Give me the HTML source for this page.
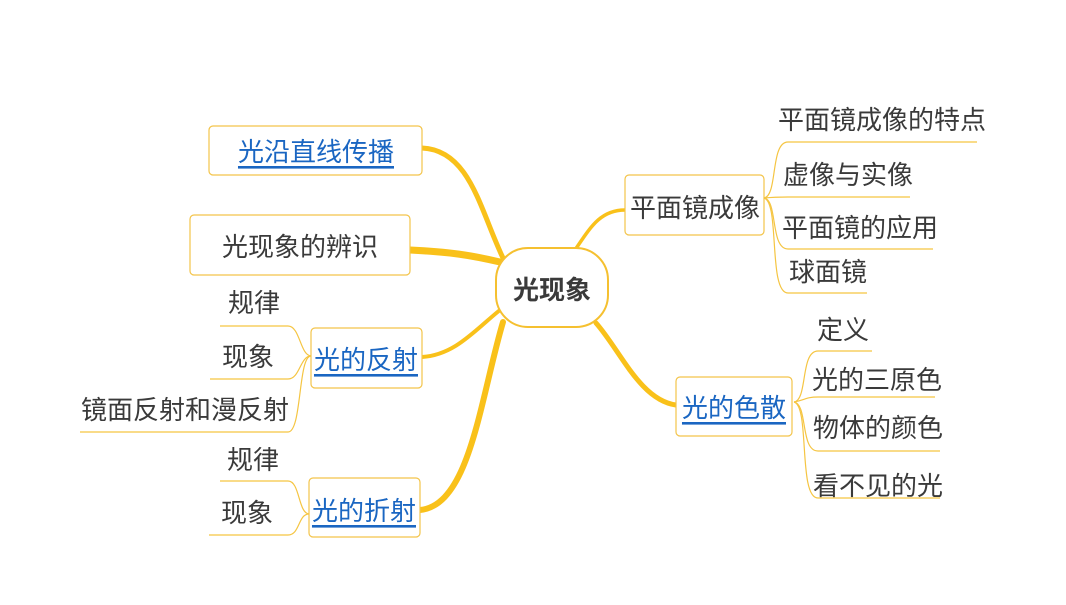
<!DOCTYPE html>
<html><head><meta charset="utf-8"><style>
html,body{margin:0;padding:0;background:#fff;}
svg text{font-family:"Liberation Sans","Noto Sans CJK SC",sans-serif;fill:#3a3a3a;}
.b{fill:#fff;stroke:#f3c44a;stroke-width:1.2;}
.t{font-size:26px;text-anchor:middle;dominant-baseline:central;}
.l{fill:#1a66c2;text-decoration:underline;}
.s{fill:none;stroke:#f5c542;stroke-width:1.2;}
.m{fill:none;stroke:#f9c11a;stroke-linecap:round;}
</style></head><body>
<svg width="1066" height="600" xmlns="http://www.w3.org/2000/svg">
<path class="m" stroke-width="5" d="M422,148 C470,150 480,210 503,258"/>
<path class="m" stroke-width="7" d="M410,250 C450,252 470,255 500,262"/>
<path class="m" stroke-width="4" d="M422,357 C455,355 475,330 500,310"/>
<path class="m" stroke-width="6" d="M420,510 C470,505 480,400 503,322"/>
<path class="m" stroke-width="3.5" d="M625,210 C600,210 590,228 575,250"/>
<path class="m" stroke-width="5" d="M676,405 C640,400 620,350 596,323"/>
<rect x="496" y="248" width="112" height="79" rx="32" class="b" style="stroke:#f5c030;stroke-width:2"/>
<text x="552" y="290" class="t" style="font-weight:bold;font-size:26px">光现象</text>
<rect x="209" y="126" width="213" height="49" rx="4" class="b"/>
<text x="316" y="152" class="t l">光沿直线传播</text>
<rect x="190" y="215" width="220" height="60" rx="4" class="b"/>
<text x="300" y="247" class="t">光现象的辨识</text>
<rect x="311" y="328" width="111" height="60" rx="4" class="b"/>
<text x="366" y="360" class="t l">光的反射</text>
<rect x="309" y="478" width="111" height="59" rx="4" class="b"/>
<text x="364" y="511" class="t l">光的折射</text>
<text x="254" y="303" class="t">规律</text>
<text x="248" y="357" class="t">现象</text>
<text x="185" y="410" class="t">镜面反射和漫反射</text>
<path class="s" d="M220,326 H288 C300,326 300,355 311,356"/>
<path class="s" d="M210,379 H288 C300,379 300,356 311,356"/>
<path class="s" d="M80,432 H288 C302,432 298,356 311,356"/>
<text x="253" y="460" class="t">规律</text>
<text x="247" y="513" class="t">现象</text>
<path class="s" d="M220,481 H288 C300,481 298,513 309,514"/>
<path class="s" d="M209,535 H288 C300,535 298,514 309,514"/>
<rect x="625" y="175" width="139" height="60" rx="4" class="b"/>
<text x="695" y="208" class="t">平面镜成像</text>
<rect x="676" y="377" width="116" height="59" rx="4" class="b"/>
<text x="734" y="408" class="t l">光的色散</text>
<text x="882" y="120" class="t">平面镜成像的特点</text>
<text x="848" y="175" class="t">虚像与实像</text>
<text x="860" y="228" class="t">平面镜的应用</text>
<text x="828" y="272" class="t">球面镜</text>
<path class="s" d="M764,198 C778,196 770,142 788,142 H977"/>
<path class="s" d="M764,198 C775,197 776,197 788,197 H910"/>
<path class="s" d="M764,198 C778,200 770,249 788,249 H933"/>
<path class="s" d="M764,198 C780,202 768,293 788,293 H867"/>
<text x="843" y="330" class="t">定义</text>
<text x="877" y="380" class="t">光的三原色</text>
<text x="878" y="428" class="t">物体的颜色</text>
<text x="878" y="486" class="t">看不见的光</text>
<path class="s" d="M794,402 C808,400 800,351 818,351 H872"/>
<path class="s" d="M794,402 C805,400 806,397 818,397 H935"/>
<path class="s" d="M794,402 C808,404 800,451 818,451 H940"/>
<path class="s" d="M794,402 C810,406 798,498 818,498 H940"/>
</svg>
</body></html>
